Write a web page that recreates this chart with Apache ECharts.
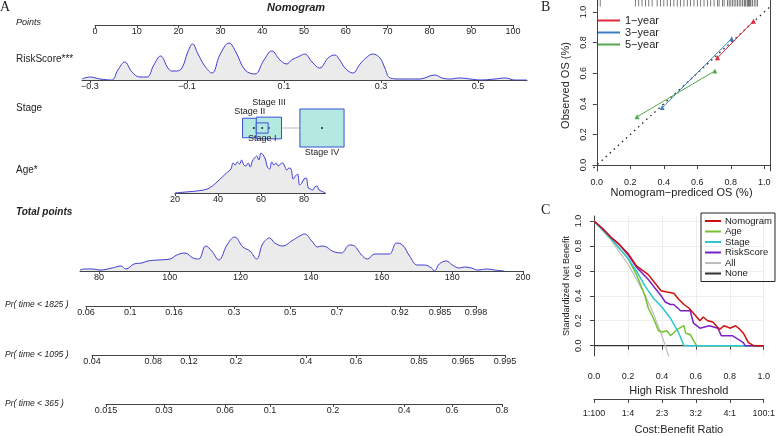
<!DOCTYPE html>
<html><head><meta charset="utf-8">
<script src="https://cdn.jsdelivr.net/npm/echarts@6/dist/echarts.min.js"></script>
<style>html,body{margin:0;padding:0;background:#fff}#c{width:778px;height:436px}</style>
</head><body><div id="c"></div>
<script>
// ---------- Panel A data ----------
const pointsTicks = [0,10,20,30,40,50,60,70,80,90,100];
const riskX = [-0.316,-0.300,-0.279,-0.255,-0.242,-0.228,-0.213,-0.197,-0.182,-0.168,-0.154,-0.139,-0.131,-0.121,-0.110,-0.098,-0.088,-0.077,-0.063,-0.048,-0.032,-0.013,0.001,0.020,0.040,0.059,0.075,0.092,0.106,0.116,0.133,0.143,0.158,0.174,0.191,0.205,0.215,0.226,0.242,0.257,0.269,0.283,0.298,0.308,0.319,0.339,0.380,0.411,0.426,0.442,0.463,0.484,0.504,0.535,0.556,0.576,0.601];
const riskDens = [1,3,1,0,10,18,8,3,3,15,24,12,9,9,12,28,36,26,14,7,25,37,28,10,6,20,29,20,16,20,24,26,18,12,22,25,20,12,7,16,22,26,22,12,2,1,1,5,2,1,2,1,0,1,2,0,0];
const riskTicks = [-0.3,-0.1,0.1,0.3,0.5];
const stageNames = ['Stage II','Stage III','Stage I','Stage IV'];
const stagePoints = [38.0,41.6,40.0,54.3];
const stageCounts = [437,546,121,1672];
const ageX = [20,25,30,35,38,40,42,44,46,47,48,49,50,51,52,53,54,55,56,57,58,59,60,61,62,63,64,65,66,67,68,69,70,71,72,73,74,75,76,77,78,79,80,81,82,83,84,85,86,87,88,89,90];
const ageDens = [0,1,2,4,8,12,16,20,24,30,28,31,29,33,28,27,30,26,32,35,37,33,40,38,34,26,24,31,28,30,27,29,30,27,23,25,24,14,17,19,8,10,14,15,5,4,3,6,7,3,2,1,0];
const ageTicks = [20,40,60,80];
const totX = [74.6,76.0,78.0,80.3,83.7,86.2,87.6,89.9,92.1,93.8,96.7,100.1,102.0,104.3,106.6,108.2,110.2,111.9,113.9,116.2,118.4,120.7,122.7,124.6,126.3,128.3,129.7,132.0,134.5,136.8,138.2,140.2,141.9,143.0,144.4,145.5,146.7,148.6,150.9,152.3,154.3,156.0,158.0,160.2,162.2,164.2,165.9,167.9,170.1,172.1,174.1,174.9,176.3,178.3,180.0,182.0,183.4,185.4,187.1,189.9,191.9,194.7];
const totDens = [1,2,2,1,3,5,2,7,8,10,11,12,16,18,13,12,25,20,11,26,34,24,20,12,27,33,28,25,30,35,37,30,24,25,24,21,19,18,26,25,16,12,17,17,17,28,26,15,6,6,3,0,7,10,6,3,4,3,1,2,1,0];
const totTicks = [80,100,120,140,160,180,200];
const pr1825Labels = ['0.06','0.1','0.16','0.3','0.5','0.7','0.92','0.985','0.998'];
const pr1825Pos = [76.3,88.8,101.2,118.1,134.0,147.2,165.0,176.3,186.5];
const pr1095Labels = ['0.04','0.08','0.12','0.2','0.4','0.6','0.85','0.965','0.995'];
const pr1095Pos = [78.0,95.3,105.4,118.7,138.5,152.6,170.4,182.8,194.7];
const pr365Labels = ['0.015','0.03','0.06','0.1','0.2','0.4','0.6','0.8'];
const pr365Pos = [82.0,98.4,115.6,128.3,146.1,166.2,179.7,193.8];
// ---------- Panel B data ----------
const calTicks = [0,0.2,0.4,0.6,0.8,1.0];
const cal1Pred = [0.72,0.935], cal1Obs = [0.70,0.94];
const cal3Pred = [0.39,0.805], cal3Obs = [0.375,0.825];
const cal5Pred = [0.24,0.705], cal5Obs = [0.315,0.615];
const rug = [0.005,0.02,0.23,0.25,0.27,0.29,0.31,0.33,0.36,0.38,0.40,0.42,0.44,0.46,0.48,0.50,0.52,0.54,0.56,0.58,0.60,0.62,0.64,0.66,0.68,0.70,0.72,0.73,0.75,0.76,0.78,0.79,0.80,0.81,0.82,0.83,0.84,0.85,0.86,0.87,0.88,0.885,0.89,0.90,0.905,0.91,0.915,0.92,0.93,0.94,0.95,0.96];
// ---------- Panel C data ----------
const dcaNomX = [0,0.05,0.1,0.15,0.2,0.25,0.32,0.36,0.395,0.43,0.47,0.5,0.53,0.56,0.586,0.624,0.643,0.67,0.70,0.74,0.765,0.786,0.80,0.834,0.86,0.88,0.91,0.94,1.0];
const dcaNomY = [1,0.94,0.87,0.81,0.74,0.64,0.57,0.50,0.44,0.43,0.42,0.37,0.33,0.30,0.26,0.20,0.23,0.20,0.19,0.13,0.16,0.15,0.14,0.16,0.13,0.10,0.025,0,0];
const dcaAgeX = [0,0.1,0.2,0.25,0.3,0.32,0.35,0.38,0.405,0.43,0.45,0.49,0.53,0.54,0.567,0.586,0.605,1.0];
const dcaAgeY = [1,0.86,0.70,0.57,0.40,0.30,0.22,0.12,0.11,0.12,0.08,0.13,0.16,0.10,0.09,0.04,0,0];
const dcaStageX = [0,0.1,0.2,0.25,0.3,0.35,0.4,0.45,0.5,0.53,1.0];
const dcaStageY = [1,0.86,0.70,0.60,0.48,0.38,0.31,0.22,0.10,0,0];
const dcaRiskX = [0,0.05,0.1,0.15,0.2,0.25,0.32,0.36,0.395,0.42,0.45,0.47,0.51,0.567,0.586,0.624,0.68,0.73,0.75,0.815,0.85,0.88,0.89,1.0];
const dcaRiskY = [1,0.94,0.87,0.81,0.73,0.63,0.53,0.46,0.40,0.35,0.33,0.33,0.28,0.28,0.18,0.14,0.16,0.14,0.08,0.08,0.05,0.025,0,0];
const dcaAllX = [0,0.1,0.2,0.3,0.35,0.4,0.42,0.45,0.47];
const dcaAllY = [1,0.847,0.655,0.409,0.257,0.08,0,-0.13,-0.22];
const dcaTicks = [0,0.2,0.4,0.6,0.8,1.0];
const costLabels = ['1:100','1:4','2:3','3:2','4:1','100:1'];

const F = 'Liberation Sans, Arial, sans-serif';
const axCol = '#444', txtCol = '#222';
const zip = (a,b) => a.map((v,i)=>[v,b[i]]);
const fs = 9;

const grids = [
  {left:95, right:265, top:24, height:1},
  {left:82, right:251, top:40, height:40},
  {left:95, right:265, top:105, height:46},
  {left:175, right:452.5, top:153, height:40},
  {left:80, right:255, top:233, height:38},
  {left:86, right:302, top:305, height:1},
  {left:92, right:273, top:354, height:1},
  {left:106, right:276, top:403, height:1},
  {left:593, right:8, top:0, height:171},
  {left:594, right:9, top:216, bottom:72}
];
grids.forEach(g=>g.containLabel=false);

function baseX(gi, min, max, ticks, extra){
  return Object.assign({type:'value', gridIndex:gi, min, max, position:'bottom',
    axisLine:{show:true, lineStyle:{color:axCol,width:1}},
    axisTick:{show:true, length:3, customValues:ticks, lineStyle:{color:axCol}},
    axisLabel:{show:true, customValues:ticks, fontSize:fs, color:txtCol, fontFamily:F, margin:2},
    splitLine:{show:false}}, extra||{});
}
function prX(gi, pos, labels){
  return baseX(gi, pos[0], pos[pos.length-1], pos, {axisLabel:{customValues:pos, fontSize:fs, color:txtCol, fontFamily:F, margin:2,
    formatter:v=>{let k=0,d=1e9;pos.forEach((p,i)=>{if(Math.abs(p-v)<d){d=Math.abs(p-v);k=i;}});return labels[k];}}});
}
const hy = (gi,min,max)=>({type:'value',gridIndex:gi,min,max,show:false});

const xAxes = [
  baseX(0,0,100,pointsTicks),
  baseX(1,-0.316,0.601,riskTicks,{axisLabel:{customValues:riskTicks,fontSize:fs,color:txtCol,fontFamily:F,margin:2,formatter:v=>v.toFixed(1).replace('-','−')}}),
  {type:'value',gridIndex:2,min:0,max:100,show:false},
  baseX(3,20,90,ageTicks),
  baseX(4,74.6,200,totTicks),
  prX(5,pr1825Pos,pr1825Labels),
  prX(6,pr1095Pos,pr1095Labels),
  prX(7,pr365Pos,pr365Labels),
  baseX(8,-0.023,1.034,calTicks,{name:'Nomogram−prediced OS (%)',nameLocation:'middle',nameGap:14,nameTextStyle:{fontSize:11,color:txtCol,fontFamily:F},
     axisTick:{customValues:calTicks,length:4,lineStyle:{color:axCol}},
     axisLabel:{customValues:calTicks,fontSize:fs,color:txtCol,fontFamily:F,margin:7,formatter:v=>v.toFixed(1)}}),
  baseX(9,0,1,dcaTicks,{name:'High Risk Threshold',nameLocation:'middle',nameGap:29,nameTextStyle:{fontSize:11,color:txtCol,fontFamily:F},
     axisTick:{customValues:dcaTicks,length:4,lineStyle:{color:axCol}},
     axisLabel:{customValues:dcaTicks,fontSize:fs,color:txtCol,fontFamily:F,margin:16,formatter:v=>v.toFixed(1)},
     splitLine:{show:true,lineStyle:{color:'#eeeeee'}}}),
  baseX(9,0,1,dcaTicks,{offset:43,name:'Cost:Benefit Ratio',nameLocation:'middle',nameGap:25,nameTextStyle:{fontSize:11,color:txtCol,fontFamily:F},
     axisTick:{customValues:dcaTicks,length:4,lineStyle:{color:axCol}},
     axisLabel:{customValues:dcaTicks,fontSize:fs,color:txtCol,fontFamily:F,margin:10,formatter:v=>costLabels[Math.round(v*5)]}})
];
const yAxes = [
  hy(0,0,1), hy(1,0,40), hy(2,0,1), hy(3,0,40), hy(4,0,38), hy(5,0,1), hy(6,0,1), hy(7,0,1),
  {type:'value',gridIndex:8,min:-0.039,max:1.078,name:'Observed OS (%)',nameLocation:'middle',nameGap:22,nameTextStyle:{fontSize:11,color:txtCol,fontFamily:F},
   axisLine:{show:true,lineStyle:{color:axCol}},axisTick:{customValues:calTicks,length:4,lineStyle:{color:axCol}},
   axisLabel:{customValues:calTicks,rotate:90,fontSize:fs,color:txtCol,fontFamily:F,margin:5,formatter:v=>v.toFixed(1)},splitLine:{show:false}},
  {type:'value',gridIndex:9,min:-0.083,max:1.04,offset:6,name:'Standardized Net Benefit',nameLocation:'middle',nameGap:17,nameTextStyle:{fontSize:9,color:txtCol,fontFamily:F},
   axisLine:{show:true,lineStyle:{color:axCol}},axisTick:{customValues:dcaTicks,length:4,lineStyle:{color:axCol}},
   axisLabel:{customValues:dcaTicks,rotate:90,fontSize:fs,color:txtCol,fontFamily:F,margin:5,formatter:v=>v.toFixed(1)},
   splitLine:{show:true,lineStyle:{color:'#eeeeee'}}},
  {type:'value',gridIndex:8,min:-0.039,max:1.078,position:'right',axisLine:{show:true,lineStyle:{color:axCol}},axisTick:{show:false},axisLabel:{show:false},splitLine:{show:false}}
];

const dens = (xi,yi,xs,ys)=>({type:'line',xAxisIndex:xi,yAxisIndex:yi,data:zip(xs,ys),smooth:0.4,symbol:'none',
  lineStyle:{color:'#3d3dd6',width:1},areaStyle:{color:'#ebebeb',opacity:1},silent:true});

const stageData = stageNames.map((n,i)=>[stagePoints[i],0.5,stageCounts[i],n]);
const labelPos = {'Stage III':[0,-1],'Stage II':[-1,-1],'Stage I':[0,1],'Stage IV':[0,1]};

const cal = (name,col,xs,ys)=>({name,type:'line',xAxisIndex:8,yAxisIndex:8,data:zip(xs,ys),symbol:'triangle',symbolSize:5,
  itemStyle:{color:col},lineStyle:{color:col,width:1}});
const dca = (name,col,xs,ys,w)=>({name,type:'line',xAxisIndex:9,yAxisIndex:9,data:zip(xs,ys),symbol:'none',clip:true,
  itemStyle:{color:col},lineStyle:{color:col,width:w||1.5}});

const series = [
  dens(1,1,riskX,riskDens), dens(3,3,ageX,ageDens), dens(4,4,totX,totDens),
  {type:'line',xAxisIndex:2,yAxisIndex:2,data:[[stagePoints[1],0.5],[stagePoints[3],0.5]],symbol:'none',lineStyle:{color:'#bbbbbb',width:1},z:1},
  {type:'custom',xAxisIndex:2,yAxisIndex:2,data:stageData,z:3,
   renderItem:(p,api)=>{
     const c=api.coord([api.value(0),api.value(1)]);
     const s=Math.sqrt(api.value(2)), w=s*1.08, h=s*0.93;
     const name=stageNames[p.dataIndex]; const lp=labelPos[name];
     const tx = c[0] + (lp[0]<0 ? -4 : 0), ty = lp[1]<0 ? c[1]-h/2-2 - (name==='Stage III'?8:0) : c[1]+h/2+1;
     return {type:'group',children:[
       {type:'rect',shape:{x:c[0]-w/2,y:c[1]-h/2,width:w,height:h},style:{fill:'#b3e9e1',stroke:'#3a4fd6',lineWidth:1}},
       {type:'circle',shape:{cx:c[0],cy:c[1],r:1},style:{fill:'#222'}},
       {type:'text',x:tx,y:ty,style:{text:name,fontSize:fs,fill:txtCol,fontFamily:F,align:'center',verticalAlign:lp[1]<0?'bottom':'top'}}
     ]};
   }},
  {type:'line',xAxisIndex:8,yAxisIndex:8,data:[[-0.02,-0.02],[1.03,1.03]],symbol:'none',lineStyle:{color:'#222',type:[1.5,4],width:1.3},silent:true},
  {type:'scatter',xAxisIndex:8,yAxisIndex:8,data:rug.map(v=>[v,1.058]),symbol:'rect',symbolSize:[0.8,7],itemStyle:{color:'#333'},silent:true},
  cal('1−year','#e0283a',cal1Pred,cal1Obs),
  cal('3−year','#3b7dc4',cal3Pred,cal3Obs),
  cal('5−year','#55a84f',cal5Pred,cal5Obs),
  dca('None','#333333',[0,1],[0,0],1.2),
  dca('All','#bdbdbd',dcaAllX,dcaAllY,1.2),
  dca('Age','#77c32d',dcaAgeX,dcaAgeY),
  dca('Stage','#2cc6d2',dcaStageX,dcaStageY),
  dca('RiskScore','#7a22c9',dcaRiskX,dcaRiskY),
  dca('Nomogram','#cc1010',dcaNomX,dcaNomY)
];

const txt = (x,y,t,extra)=>({type:'text',left:x,top:y,style:Object.assign({text:t,fontSize:10,fill:txtCol,fontFamily:F},extra||{})});
const option = {
  animation:false,
  grid:grids, xAxis:xAxes, yAxis:yAxes, series,
  legend:[
    {data:['1−year','3−year','5−year'],orient:'vertical',left:593,top:10,itemGap:1,itemWidth:22,itemHeight:2,icon:'rect',
     textStyle:{fontSize:11,color:txtCol,fontFamily:F}},
    {data:['Nomogram','Age','Stage','RiskScore','All','None'],orient:'vertical',left:701,top:213,itemGap:0.5,itemWidth:16,itemHeight:2,icon:'rect',
     padding:[3,3,3,4],borderColor:'#222',borderWidth:1,textStyle:{fontSize:9.5,color:txtCol,fontFamily:F,padding:[0,0,0,-1]}}
  ],
  graphic:[
    txt(0,0,'A',{fontSize:14,fontFamily:'Liberation Serif, serif'}),
    txt(541,0,'B',{fontSize:14,fontFamily:'Liberation Serif, serif'}),
    txt(541,203,'C',{fontSize:14,fontFamily:'Liberation Serif, serif'}),
    txt(267,2,'Nomogram',{fontSize:11,fontWeight:'bold',fontStyle:'italic'}),
    txt(16,18,'Points',{fontSize:9,fontStyle:'italic'}),
    txt(16,54,'RiskScore***'),
    txt(16,103,'Stage'),
    txt(16,165,'Age*'),
    txt(16,207,'Total points',{fontWeight:'bold',fontStyle:'italic'}),
    txt(5,300,'Pr( time < 1825 )',{fontSize:8.5,fontStyle:'italic'}),
    txt(5,350,'Pr( time < 1095 )',{fontSize:8.5,fontStyle:'italic'}),
    txt(5,399,'Pr( time < 365 )',{fontSize:8.5,fontStyle:'italic'})
  ]
};
echarts.init(document.getElementById('c')).setOption(option);
</script></body></html>
